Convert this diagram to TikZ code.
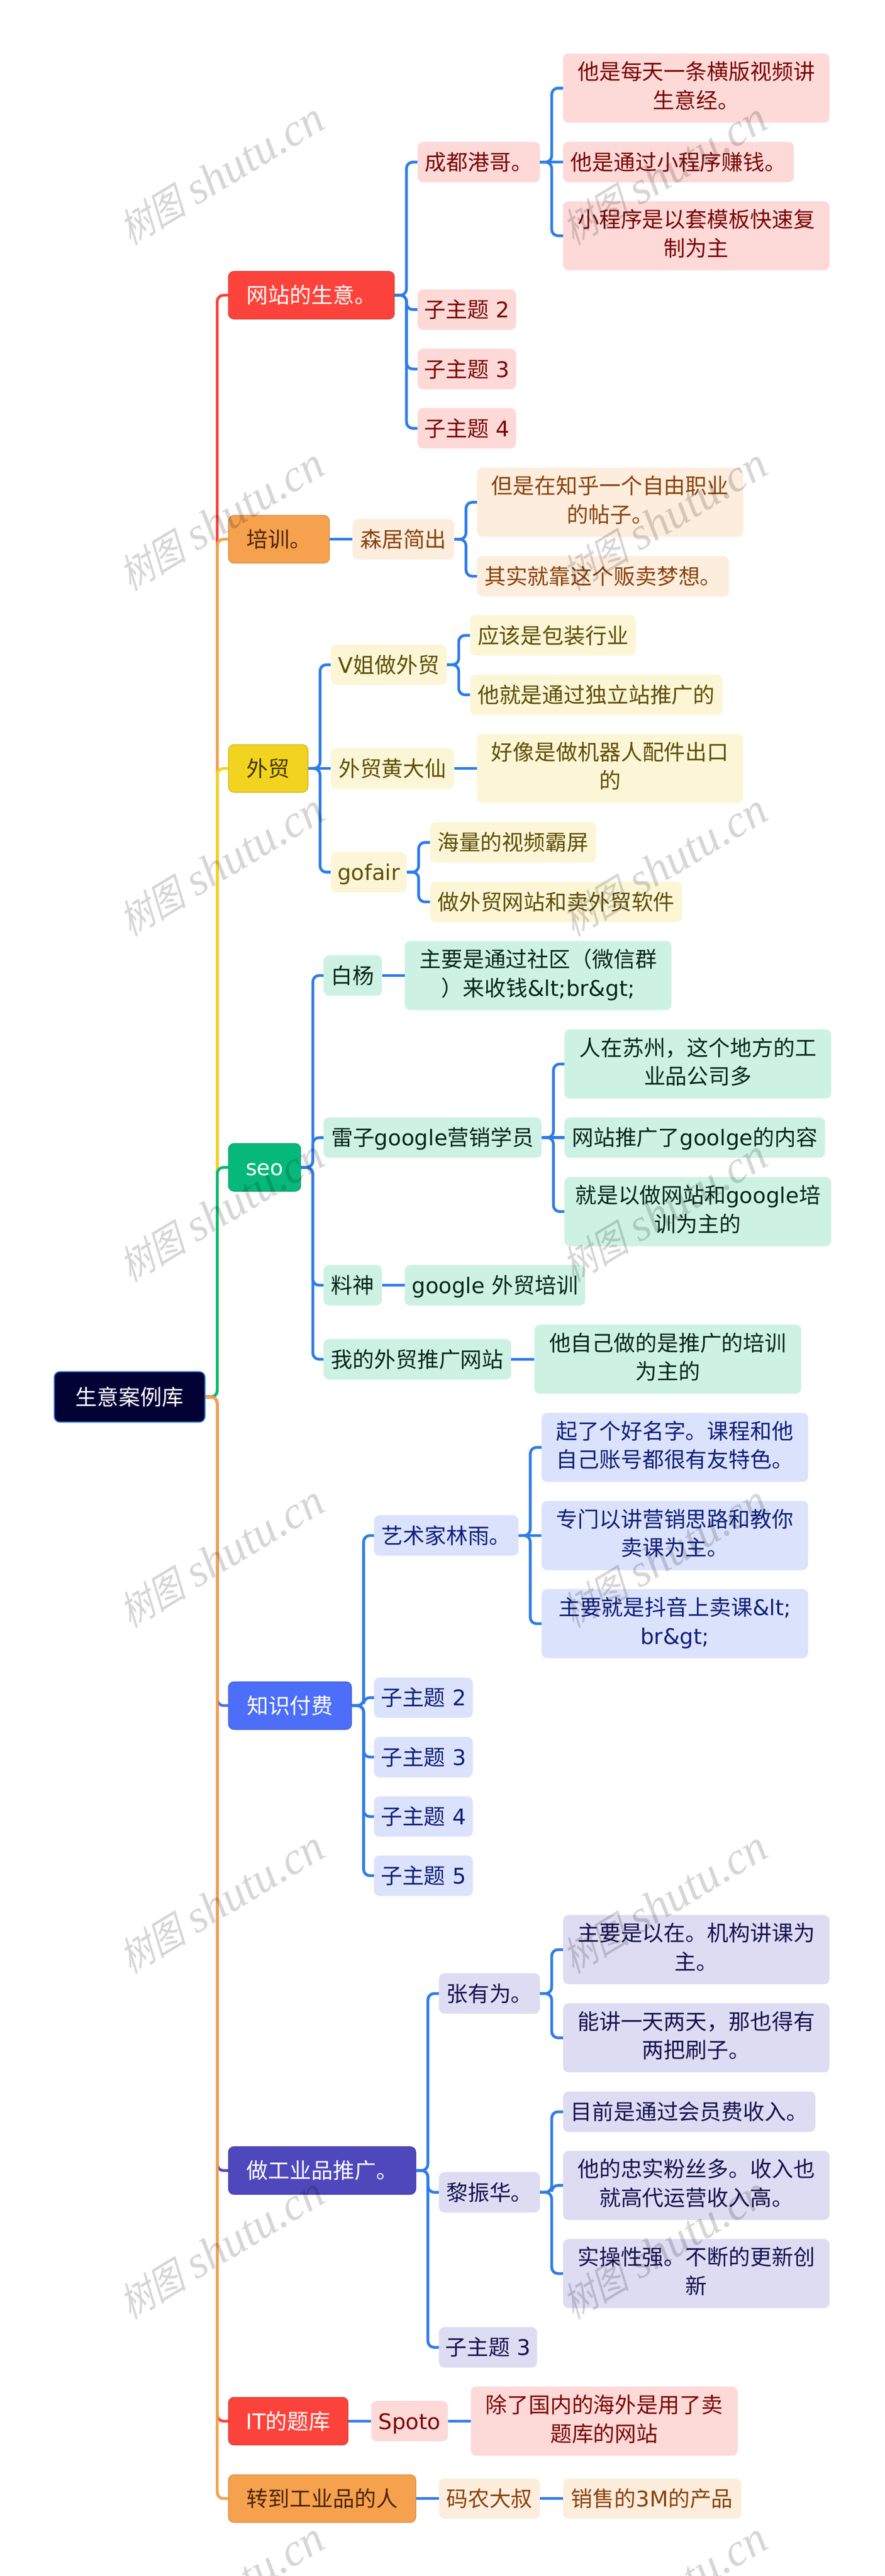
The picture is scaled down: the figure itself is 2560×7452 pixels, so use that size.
\documentclass[tikz,border=0pt]{standalone}
\usepackage{fontspec}
\setmainfont{Noto Sans CJK SC}
\newfontfamily\latfont{DejaVu Sans}
\newfontfamily\wmcjk[FakeSlant=0.25,FakeStretch=0.84]{Noto Sans CJK SC}
\newfontfamily\wmlat{Liberation Serif Italic}
\newcommand{\lat}[1]{{\latfont #1}}
\newcommand{\mstrut}{\rule[-18pt]{0pt}{83pt}}
\definecolor{linkblue}{HTML}{2E7CE8}
\definecolor{redmain}{HTML}{FB433C}
\definecolor{redsub}{HTML}{FDD9D7}
\definecolor{redtext}{HTML}{7A0505}
\definecolor{orangemain}{HTML}{F5A14D}
\definecolor{orangesub}{HTML}{FDEDDD}
\definecolor{orangetext}{HTML}{8A420C}
\definecolor{yellowmain}{HTML}{F2D31F}
\definecolor{yellowsub}{HTML}{FCF6D6}
\definecolor{yellowtext}{HTML}{5E4E05}
\definecolor{greenmain}{HTML}{06B97B}
\definecolor{greensub}{HTML}{CDF2E4}
\definecolor{greentext}{HTML}{06261A}
\definecolor{bluemain}{HTML}{4C6EF8}
\definecolor{bluesub}{HTML}{DBE2FC}
\definecolor{bluetext}{HTML}{0F1E7A}
\definecolor{purplemain}{HTML}{4E48BC}
\definecolor{purplesub}{HTML}{DDDCF2}
\definecolor{purpletext}{HTML}{16134F}
\definecolor{rootfill}{HTML}{030235}
\tikzset{%
    wh/.style 2 args={minimum width=#1pt,minimum height=#2pt},
    topicbox/.style={
        rounded corners=16pt, inner sep=0pt, align=center,
        font=\fontsize{62.4}{83}\selectfont,
        execute at begin node=\mstrut,
        execute at end node=\mstrut},
    rootbox/.style={topicbox, fill=rootfill, draw=linkblue, line width=3pt, text=white},
    mainbox/.style 2 args={topicbox, fill=#1, draw=#1!85!black, line width=2pt, text=#2},
    subbox/.style 2 args={topicbox, fill=#1, text=#2},
    redm/.style={mainbox={redmain}{white}},
    reds/.style={subbox={redsub}{redtext}},
    orangem/.style={mainbox={orangemain}{orangetext!55!black}},
    oranges/.style={subbox={orangesub}{orangetext}},
    yellowm/.style={mainbox={yellowmain}{yellowtext!70!black}},
    yellows/.style={subbox={yellowsub}{yellowtext}},
    greenm/.style={mainbox={greenmain}{white}},
    greens/.style={subbox={greensub}{greentext}},
    bluem/.style={mainbox={bluemain}{white}},
    blues/.style={subbox={bluesub}{bluetext}},
    purplem/.style={mainbox={purplemain}{white}},
    purples/.style={subbox={purplesub}{purpletext}},
    link/.style={line width=8pt, linkblue, rounded corners=18pt},
    watermark/.style={text=black, text opacity=0.16, rotate=31, anchor=base west, inner sep=0pt}
}
\begin{document}
\begin{tikzpicture}[x=1pt,y=-1pt]
\useasboundingbox (0,0) rectangle (2560,7452);
\node[rootbox, wh={436}{146}] (root) at (375,4041) {生意案例库};

\node[redm, wh={480}{138}] (site) at (901,854) {网站的生意。};
\node[reds, wh={354}{117}] (chengdu) at (1385,469) {成都港哥。};
\node[reds, wh={771}{200}] (video) at (2014.5,255) {他是每天一条横版视频讲\\生意经。};
\node[reds, wh={668}{117}] (miniapp) at (1963,469) {他是通过小程序赚钱。};
\node[reds, wh={771}{200}] (template) at (2014.5,682) {小程序是以套模板快速复\\制为主};
\node[reds, wh={285}{117}] (siteb) at (1350.5,895.5) {子主题\lat{\space 2}};
\node[reds, wh={285}{117}] (sitec) at (1350.5,1067.5) {子主题\lat{\space 3}};
\node[reds, wh={285}{117}] (sited) at (1350.5,1239) {子主题\lat{\space 4}};

\node[orangem, wh={292}{138}] (train) at (807,1560) {培训。};
\node[oranges, wh={294}{117}] (senju) at (1167,1560) {森居简出};
\node[oranges, wh={770}{200}] (zhihu) at (1765,1453) {但是在知乎一个自由职业\\的帖子。};
\node[oranges, wh={729}{117}] (dream) at (1744.5,1667) {其实就靠这个贩卖梦想。};

\node[yellowm, wh={230}{138}] (trade) at (776,2223) {外贸};
\node[yellows, wh={336}{117}] (vjie) at (1125,1923) {\lat{V}姐做外贸};
\node[yellows, wh={480}{117}] (pack) at (1600,1838) {应该是包装行业};
\node[yellows, wh={730}{117}] (indep) at (1725,2010) {他就是通过独立站推广的};
\node[yellows, wh={357}{117}] (huang) at (1135.5,2223) {外贸黄大仙};
\node[yellows, wh={770}{200}] (robot) at (1765,2223) {好像是做机器人配件出口\\的};
\node[yellows, wh={220}{117}] (gofair) at (1067,2523) {\lat{gofair}};
\node[yellows, wh={480}{117}] (screen) at (1484,2437) {海量的视频霸屏};
\node[yellows, wh={730}{117}] (soft) at (1609,2609) {做外贸网站和卖外贸软件};

\node[greenm, wh={209}{138}] (seo) at (765.5,3377) {\lat{seo}};
\node[greens, wh={169}{117}] (baiyang) at (1020.5,2822) {白杨};
\node[greens, wh={772}{200}] (wechat) at (1557,2822) {主要是通过社区（微信群\\）来收钱\lat{\&lt;br\&gt;}};
\node[greens, wh={631}{117}] (leizi) at (1251.5,3291) {雷子\lat{google}营销学员};
\node[greens, wh={772}{200}] (suzhou) at (2019,3078) {人在苏州，这个地方的工\\业品公司多};
\node[greens, wh={754}{117}] (goolge) at (2010,3291) {网站推广了\lat{goolge}的内容};
\node[greens, wh={772}{200}] (gtrain) at (2019,3505) {就是以做网站和\lat{google}培\\训为主的};
\node[greens, wh={169}{117}] (liaoshen) at (1020.5,3718) {料神};
\node[greens, wh={522}{117}] (gcourse) at (1432,3718) {\lat{google }外贸培训};
\node[greens, wh={543}{117}] (mysite) at (1207.5,3932) {我的外贸推广网站};
\node[greens, wh={772}{200}] (selfmade) at (1932,3932) {他自己做的是推广的培训\\为主的};

\node[bluem, wh={356}{138}] (know) at (839,4934) {知识付费};
\node[blues, wh={418}{117}] (linyu) at (1291,4442) {艺术家林雨。};
\node[blues, wh={771}{200}] (name) at (1952.5,4187) {起了个好名字。课程和他\\自己账号都很有友特色。};
\node[blues, wh={771}{200}] (sell) at (1952.5,4442) {专门以讲营销思路和教你\\卖课为主。};
\node[blues, wh={771}{200}] (douyin) at (1952.5,4697) {主要就是抖音上卖课\lat{\&lt;}\\\lat{br\&gt;}};
\node[blues, wh={286}{117}] (knowb) at (1225,4911) {子主题\lat{\space 2}};
\node[blues, wh={286}{117}] (knowc) at (1225,5083) {子主题\lat{\space 3}};
\node[blues, wh={286}{117}] (knowd) at (1225,5255) {子主题\lat{\space 4}};
\node[blues, wh={286}{117}] (knowe) at (1225,5426) {子主题\lat{\space 5}};

\node[purplem, wh={542}{138}] (ind) at (932,6279) {做工业品推广。};
\node[purples, wh={292}{117}] (zhang) at (1416,5767) {张有为。};
\node[purples, wh={771}{200}] (agency) at (2014.5,5640) {主要是以在。机构讲课为\\主。};
\node[purples, wh={771}{200}] (twodays) at (2014.5,5895) {能讲一天两天，那也得有\\两把刷子。};
\node[purples, wh={292}{117}] (lizhen) at (1416,6342) {黎振华。};
\node[purples, wh={730}{117}] (member) at (1994,6109) {目前是通过会员费收入。};
\node[purples, wh={771}{200}] (fans) at (2014.5,6322) {他的忠实粉丝多。收入也\\就高代运营收入高。};
\node[purples, wh={771}{200}] (update) at (2014.5,6577) {实操性强。不断的更新创\\新};
\node[purples, wh={284}{117}] (indc) at (1412,6790.5) {子主题\lat{\space 3}};

\node[redm, wh={346}{138}] (itbank) at (834,7004) {\lat{IT}的题库};
\node[reds, wh={222}{117}] (spoto) at (1185,7004) {\lat{Spoto}};
\node[reds, wh={772}{200}] (oversea) at (1748,7004) {除了国内的海外是用了卖\\题库的网站};

\node[orangem, wh={542}{138}] (turn) at (932,7228) {转到工业品的人};
\node[oranges, wh={292}{117}] (manong) at (1416,7228) {码农大叔};
\node[oranges, wh={515}{117}] (product) at (1886.5,7228) {销售的\lat{3M}的产品};

\foreach \tonode/\linecol in {site/redmain,train/orangemain,trade/yellowmain,seo/greenmain,
    know/bluemain,ind/purplemain,itbank/redmain,turn/orangemain}
    \draw[link, draw=\linecol] (root.east) -- ++(34,0) |- (\tonode.west);

\foreach \fromnode/\tonode in {site/chengdu,site/siteb,site/sitec,site/sited,
    chengdu/video,chengdu/template,senju/zhihu,senju/dream,
    trade/vjie,trade/gofair,vjie/pack,vjie/indep,gofair/screen,gofair/soft,
    seo/baiyang,seo/leizi,seo/liaoshen,seo/mysite,leizi/suzhou,leizi/gtrain,
    know/linyu,know/knowb,know/knowc,know/knowd,know/knowe,linyu/name,linyu/douyin,
    ind/zhang,ind/lizhen,ind/indc,zhang/agency,zhang/twodays,
    lizhen/member,lizhen/fans,lizhen/update}
    \draw[link] (\fromnode.east) -- ++(34,0) |- (\tonode.west);

\foreach \fromnode/\tonode in {chengdu/miniapp,train/senju,trade/huang,huang/robot,
    baiyang/wechat,leizi/goolge,liaoshen/gcourse,mysite/selfmade,linyu/sell,
    itbank/spoto,spoto/oversea,turn/manong,manong/product}
    \draw[link] (\fromnode.east) -- (\tonode.west);

\foreach \wmx in {378,1660}
    \foreach \wmy in {710,1710,...,7710}
        \node[watermark] (wm\wmx\wmy) at (\wmx,\wmy)
            {{\fontsize{114}{114}\selectfont\wmcjk 树图}\hspace{30pt}{\fontsize{132}{132}\selectfont\wmlat shutu.cn}};
\end{tikzpicture}
\end{document}
